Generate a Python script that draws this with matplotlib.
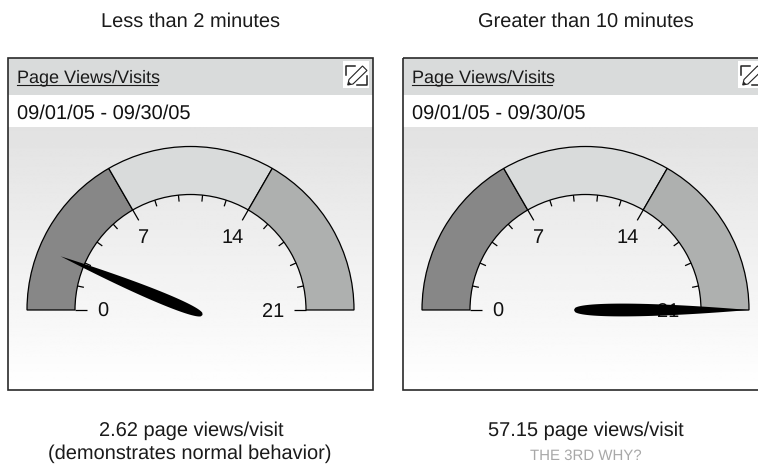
import numpy as np
import matplotlib
matplotlib.use("Agg")
import matplotlib.pyplot as plt
from matplotlib.patches import Wedge, Rectangle, Polygon

plt.rcParams['font.family'] = ['Liberation Sans', 'DejaVu Sans']
plt.rcParams['text.hinting'] = 'no_hinting'
plt.rcParams['text.hinting_factor'] = 1

# data
titles = ["Less than 2 minutes", "Greater than 10 minutes"]
values = [2.62, 57.15]
captions = ["2.62 page views/visit", "57.15 page views/visit"]
subcaptions = ["(demonstrates normal behavior)", "THE 3RD WHY?"]
sub_colors = ["#1a1a1a", "#a8a8a8"]
sub_sizes = [14.7, 11]
panel_title = "Page Views/Visits"
date_range = "09/01/05 - 09/30/05"
scale_max = 21
zone_edges = [0, 7, 14, 21]
zone_colors = ["#878787", "#d9dbdb", "#aeb0af"]
major_labels = [0, 7, 14, 21]
minor_step = 1.4

# layout in pixels
panel_x = [8, 403]
needle_len = [140.5, 163.5]
tail_len = [13, 11.5]
needle_w = [5.8, 6.4]
label_dx = [0, -3, -2, -5]
label_dy = [2, 4, 4, 2]
title_x = [191, 586]


def ang(v):
    return np.radians(180 - 180 * v / scale_max)


def draw_icon(ax, x, y):
    ax.add_patch(Rectangle((x, y), 26, 27, fc="white", ec="none", zorder=3))
    ax.plot([x+2.5, x+2.5, x+12], [y+14.5, y+5.5, y+5.5], color="#222222", lw=1.1, zorder=4)
    ax.plot([x+14, x+23.5, x+23.5], [y+24, y+24, y+15.5], color="#222222", lw=1.1, zorder=4)
    ax.add_patch(Polygon([[x+4.7, y+24], [x+6, y+18.5], [x+19.5, y+5], [x+24, y+9.5], [x+10, y+23]],
                         closed=True, fc="white", ec="#222222", lw=0.8, zorder=4))
    ax.add_patch(Polygon([[x+4.7, y+24], [x+5.6, y+20.3], [x+8.3, y+23.2]],
                         closed=True, fc="#222222", ec="none", zorder=5))


def draw_needle(ax, cx, cy, v, length, tail, half_w):
    a = ang(min(v, scale_max))
    s = np.linspace(0, 1, 160)
    prof = s ** 0.38 * (1 - s)
    prof = prof / prof.max() * half_w
    along = -tail + s * (length + tail)
    px = np.r_[along, along[::-1]]
    py = np.r_[prof, -prof[::-1]]
    x = cx + px * np.cos(a) - py * np.sin(a)
    y = cy - px * np.sin(a) - py * np.cos(a)
    ax.add_patch(Polygon(np.c_[x, y], closed=True, fc="black", ec="none", zorder=8))


fig = plt.figure(figsize=(7.58, 4.65), dpi=100)
ax = fig.add_axes([0, 0, 1, 1])
ax.set_xlim(0, 758)
ax.set_ylim(465, 0)
ax.axis("off")

grad = np.linspace(0.885, 1, 256).reshape(-1, 1)

for i in range(2):
    x0 = panel_x[i]
    x1 = x0 + 365
    cx = x0 + 182.5
    cy = 310
    R = 163.5
    r = 115.5

    ax.imshow(grad, extent=[x0, x1, 390, 127], cmap="gray", vmin=0, vmax=1, aspect="auto", zorder=0)
    ax.add_patch(Rectangle((x0, 58), 365, 37, fc="#d9dbdb", ec="none", zorder=1))
    ax.add_patch(Rectangle((x0, 95), 365, 32, fc="white", ec="none", zorder=1))
    ax.add_patch(Rectangle((x0, 58), 365, 332, fc="none", ec="#2a2a2a", lw=1.2, zorder=6))

    ax.text(title_x[i], 22, titles[i], ha="center", va="center", fontsize=14.6, color="#1a1a1a")
    ax.text(x0 + 9, 78, panel_title, ha="left", va="center", fontsize=12.65, color="#1a1a1a", zorder=4)
    ax.plot([x0 + 9, x0 + 148.5], [85.5, 85.5], color="#1a1a1a", lw=0.8, zorder=4)
    ax.text(x0 + 9, 114, date_range, ha="left", va="center", fontsize=14.6, color="#111111", zorder=4)
    draw_icon(ax, x0 + 335, 61)

    # the y axis is inverted, so wedge angles run clockwise from the right
    for j in range(3):
        t1 = 180 + 180 * zone_edges[j] / scale_max
        t2 = 180 + 180 * zone_edges[j + 1] / scale_max
        ax.add_patch(Wedge((cx, cy), R, t1, t2, width=R - r, fc=zone_colors[j],
                           ec="black", lw=0.9, zorder=2))

    for v in np.arange(0, scale_max + 0.01, minor_step):
        a = ang(v)
        is_major = any(abs(v - m) < 0.01 for m in major_labels)
        r2 = r - (12 if is_major else 6.5)
        ax.plot([cx + r * np.cos(a), cx + r2 * np.cos(a)],
                [cy - r * np.sin(a), cy - r2 * np.sin(a)],
                color="black", lw=0.9, zorder=3, solid_capstyle="butt")

    for k, m in enumerate(major_labels):
        a = ang(m)
        ax.text(cx + 88 * np.cos(a) + label_dx[k], cy + label_dy[k] - 88 * np.sin(a), str(m),
                ha="center", va="center", fontsize=14.6, color="#111111", zorder=3)

    draw_needle(ax, cx, cy, values[i], needle_len[i], tail_len[i], needle_w[i])

    ax.text(cx + 0.5, 431, captions[i], ha="center", va="center", fontsize=14.7, color="#1a1a1a")
    ax.text(cx - 0.5 if i == 0 else cx + 0.5, 454 if i == 0 else 455.5, subcaptions[i], ha="center", va="center",
            fontsize=sub_sizes[i], color=sub_colors[i])

ax.set_xlim(0, 758)
ax.set_ylim(465, 0)
fig.savefig("out.png", dpi=100)
